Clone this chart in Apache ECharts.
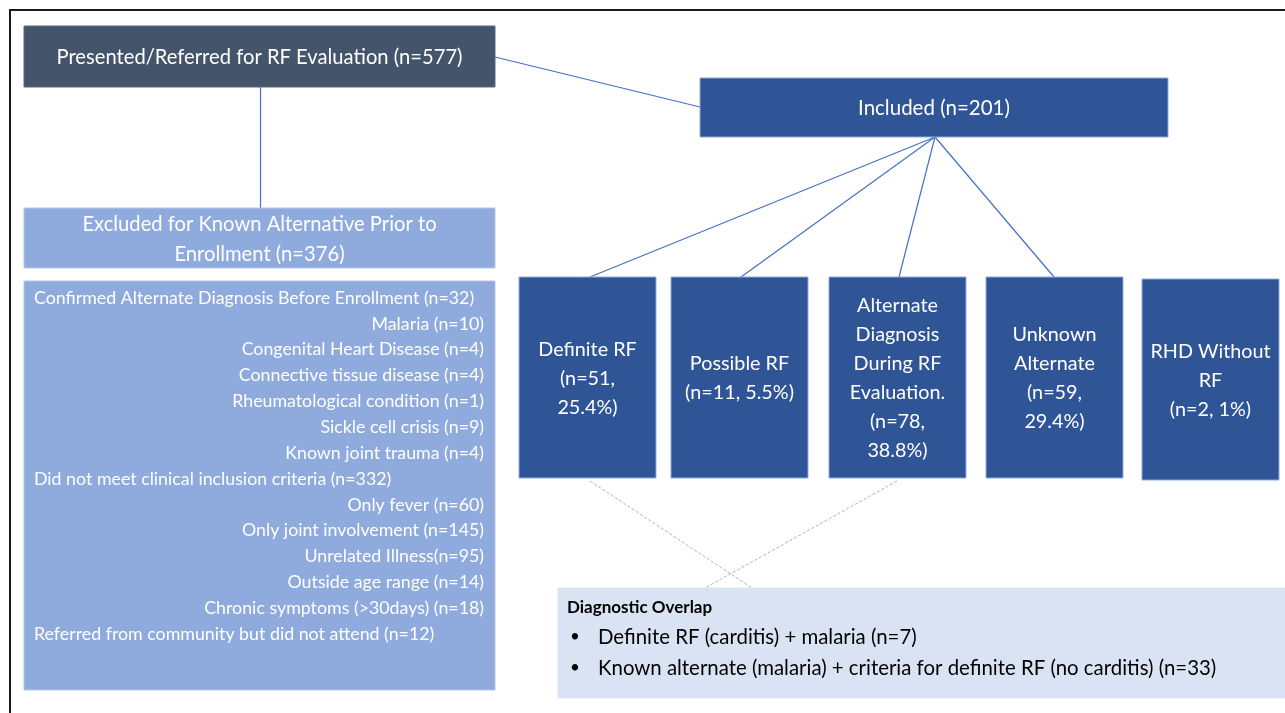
<!DOCTYPE html>
<html>
<head>
<meta charset="utf-8">
<title>RF evaluation flow</title>
<script src="https://cdn.jsdelivr.net/npm/echarts@6/dist/echarts.min.js"></script>
<style>
html,body{margin:0;padding:0;background:#fff;}
#main{width:1285px;height:713px;}
</style>
</head>
<body>
<div id="main"></div>
<script>
// numbers
var referredLabel = 'Presented/Referred for RF Evaluation';
var referredTotal = 577;
var excludedTotal = 376;
var includedTotal = 201;

// exclusion breakdown (level 0 = group heading, 1 = sub item)
var exclusionNames = [
    'Confirmed Alternate Diagnosis Before Enrollment ',
    'Malaria ',
    'Congenital Heart Disease ',
    'Connective tissue disease ',
    'Rheumatological condition ',
    'Sickle cell crisis ',
    'Known joint trauma ',
    'Did not meet clinical inclusion criteria ',
    'Only fever ',
    'Only joint involvement ',
    'Unrelated Illness',
    'Outside age range ',
    'Chronic symptoms (>30days) ',
    'Referred from community but did not attend '
];
var exclusionCounts = [32, 10, 4, 4, 1, 9, 4, 332, 60, 145, 95, 14, 18, 12];
var exclusionLevel = [0, 1, 1, 1, 1, 1, 1, 0, 1, 1, 1, 1, 1, 0];

// outcomes of the included children
var outcomeNames = ['Definite RF', 'Possible RF', 'Alternate Diagnosis During RF Evaluation.', 'Unknown Alternate', 'RHD Without RF'];
var outcomeCounts = [51, 11, 78, 59, 2];
var outcomePercents = ['25.4%', '5.5%', '38.8%', '29.4%', '1%'];
var outcomeLinked = [true, true, true, true, false];

var overlapTitle = 'Diagnostic Overlap';
var overlapNames = ['Definite RF (carditis) + malaria ', 'Known alternate (malaria) + criteria for definite RF (no carditis) '];
var overlapCounts = [7, 33];

var FONT = 'Lato, "Open Sans", sans-serif';

// ---- layout (diagram units = pixels of the 1285x713 canvas) ----
var outcomeX = [519, 671, 829, 986, 1142];
var outcomeTop = [277, 277, 277, 277, 279];
var outcomeAnchor = [590, 741, 899, 1054];
// how each outcome label is broken into lines
var outcomeWrap = [
    ['Definite RF', '(n={n},', '{p})'],
    ['Possible RF', '(n={n}, {p})'],
    ['Alternate', 'Diagnosis', 'During RF', 'Evaluation.', '(n={n},', '{p})'],
    ['Unknown', 'Alternate', '(n={n},', '{p})'],
    ['RHD Without', 'RF', '(n={n}, {p})']
];

var boxes = [];
boxes.push({x: 24, y: 26, w: 471, h: 61, fill: '#44546A', stroke: '#5a6b85',
    center: [referredLabel + ' (n=' + referredTotal + ')'], size: 20.2, lh: 28});
boxes.push({x: 24, y: 208, w: 471, h: 60, fill: '#8FAADC', stroke: '#b4c7e7',
    center: ['Excluded for Known Alternative Prior to', 'Enrollment (n=' + excludedTotal + ')'], size: 20.2, lh: 30});
boxes.push({x: 700, y: 78, w: 468, h: 59, fill: '#2F5597', stroke: '#8eaadb',
    center: ['Included (n=' + includedTotal + ')'], size: 20.5, lh: 28});

// list of exclusion reasons
var listRows = [];
for (var i = 0; i < exclusionNames.length; i++) {
    listRows.push({
        text: exclusionNames[i] + '(n=' + exclusionCounts[i] + ')',
        dx: exclusionLevel[i] === 0 ? 10 : 460,
        dy: 17 + i * 25.85,
        align: exclusionLevel[i] === 0 ? 'left' : 'right'
    });
}
boxes.push({x: 24, y: 281, w: 471, h: 409, fill: '#8FAADC', stroke: '#b4c7e7',
    rows: listRows, size: 17.8, color: '#fff'});

for (var k = 0; k < outcomeNames.length; k++) {
    var lines = outcomeWrap[k].map(function (s) {
        return s.replace('{n}', outcomeCounts[k]).replace('{p}', outcomePercents[k]);
    });
    boxes.push({x: outcomeX[k], y: outcomeTop[k], w: 137, h: 201, fill: '#2F5597', stroke: '#8eaadb',
        center: lines, size: 19.8, lh: 29});
}

var overlapRows = [{text: overlapTitle, dx: 9, dy: 20, align: 'left', weight: 'bold', size: 17}];
for (var m = 0; m < overlapNames.length; m++) {
    overlapRows.push({text: '\u2022', dx: 12, dy: 49 + m * 31, align: 'left', size: 17});
    overlapRows.push({text: overlapNames[m] + '(n=' + overlapCounts[m] + ')', dx: 40, dy: 49 + m * 31, align: 'left', size: 20.4});
}
boxes.push({x: 558, y: 588, w: 727, h: 110, fill: '#DAE3F3', stroke: '#DAE3F3',
    rows: overlapRows, size: 17, color: '#000'});

// connectors
var solidLinks = [
    {coords: [[495, 57], [700, 107]]},
    {coords: [[260, 87], [260, 208]]}
];
for (var j = 0; j < outcomeNames.length; j++) {
    if (outcomeLinked[j]) {
        solidLinks.push({coords: [[935, 137], [outcomeAnchor[j], 277]]});
    }
}
var dashedLinks = [
    {coords: [[590, 481], [752, 588]]},
    {coords: [[897, 481], [705, 588]]}
];

function renderBox(params, api) {
    var b = boxes[params.dataIndex];
    var p1 = api.coord([b.x, b.y]);
    var p2 = api.coord([b.x + b.w, b.y + b.h]);
    var children = [{
        type: 'rect',
        shape: {x: p1[0], y: p1[1], width: p2[0] - p1[0], height: p2[1] - p1[1]},
        style: {fill: b.fill, stroke: b.stroke, lineWidth: 1}
    }];
    if (b.center) {
        var c = api.coord([b.x + b.w / 2, b.y + b.h / 2]);
        children.push({
            type: 'text',
            style: {
                text: b.center.join('\n'), x: c[0], y: c[1] + 1,
                align: 'center', verticalAlign: 'middle',
                fill: '#fff', fontSize: b.size, lineHeight: b.lh, fontFamily: FONT
            }
        });
    }
    if (b.rows) {
        b.rows.forEach(function (r) {
            var p = api.coord([b.x + r.dx, b.y + r.dy]);
            children.push({
                type: 'text',
                style: {
                    text: r.text, x: p[0], y: p[1], align: r.align, verticalAlign: 'middle',
                    fill: b.color, fontSize: r.size || b.size, fontWeight: r.weight || 'normal', fontFamily: FONT
                }
            });
        });
    }
    return {type: 'group', children: children};
}

var chart = echarts.init(document.getElementById('main'));
var option = {
    backgroundColor: '#fff',
    animation: false,
    grid: {left: 0, right: 0, top: 0, bottom: 0},
    xAxis: {type: 'value', min: 0, max: 1285, show: false},
    yAxis: {type: 'value', min: 0, max: 713, inverse: true, show: false},
    graphic: [{
        type: 'polyline',
        shape: {points: [[10, 713], [10, 10], [1285, 10]]},
        style: {stroke: '#1a1a1a', lineWidth: 2, fill: null}
    }],
    series: [
        {
            type: 'lines',
            coordinateSystem: 'cartesian2d',
            z: 1,
            lineStyle: {color: '#4472C4', width: 1.2, opacity: 1},
            data: solidLinks
        },
        {
            type: 'lines',
            coordinateSystem: 'cartesian2d',
            z: 1,
            lineStyle: {color: '#9fb4dd', width: 1, type: [3, 2], opacity: 1},
            data: dashedLinks
        },
        {
            type: 'custom',
            coordinateSystem: 'cartesian2d',
            z: 2,
            renderItem: renderBox,
            data: boxes.map(function (b) { return [b.x + b.w / 2, b.y + b.h / 2]; })
        }
    ]
};
chart.setOption(option);
</script>
</body>
</html>
